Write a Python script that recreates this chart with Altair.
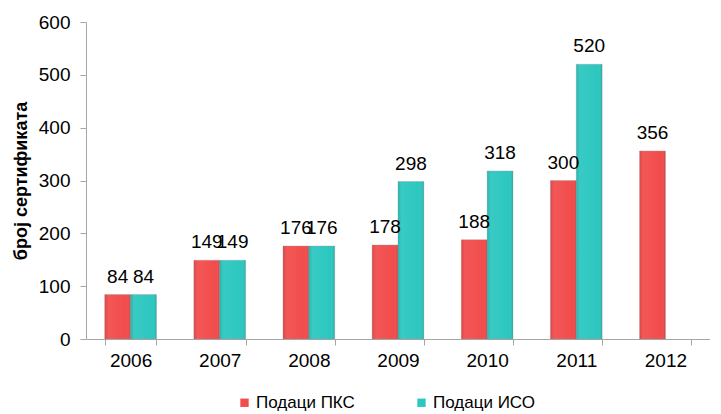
import altair as alt
import pandas as pd

years = ["2006", "2007", "2008", "2009", "2010", "2011", "2012"]
pks = [84, 149, 176, 178, 188, 300, 356]
iso = [84, 149, 176, 298, 318, 520, None]
series = ["Подаци ПКС", "Подаци ИСО"]
colors = ["#F24C4C", "#2CC7C0"]

rows = []
for i, y in enumerate(years):
    rows.append({"year": y, "series": series[0], "value": pks[i]})
    if iso[i] is not None:
        rows.append({"year": y, "series": series[1], "value": iso[i]})
df = pd.DataFrame(rows)

FONT = "Liberation Sans"
pi = 0.42

x = alt.X(
    "year:N",
    sort=years,
    title=None,
    scale=alt.Scale(paddingInner=pi, paddingOuter=pi / 2),
    axis=alt.Axis(
        labelAngle=0, labelFontSize=19, labelColor="#000000", labelFont=FONT,
        tickBand="extent", tickSize=6, tickColor="#A6A6A6",
        domainColor="#A6A6A6", labelPadding=6,
    ),
)
xo = alt.XOffset("series:N", sort=series, scale=alt.Scale(domain=series))
y = alt.Y(
    "value:Q",
    scale=alt.Scale(domain=[0, 600]),
    title="број сертификата",
    axis=alt.Axis(
        values=[0, 100, 200, 300, 400, 500, 600], grid=False,
        labelFontSize=19, labelColor="#000000", labelFont=FONT,
        tickSize=6, tickColor="#A6A6A6", domainColor="#A6A6A6",
        labelPadding=10, titleFontSize=18, titleFont=FONT, titleFontWeight="bold",
        titleColor="#000000", titlePadding=8,
    ),
)

bars = alt.Chart(df).mark_bar(stroke="#9a9a9a", strokeWidth=0.6, strokeOpacity=0.6).encode(
    x=x, xOffset=xo, y=y,
    color=alt.Color(
        "series:N", sort=series,
        scale=alt.Scale(domain=series, range=colors),
        legend=alt.Legend(
            title=None, orient="none", direction="horizontal",
            legendX=150, legendY=372, symbolType="square", symbolSize=70,
            symbolStrokeWidth=0, labelFontSize=17, labelFont=FONT,
            labelColor="#000000", columnPadding=58, symbolOffset=0, labelOffset=3,
        ),
    ),
)

shade = alt.Chart(df).mark_bar(
    fill=alt.Gradient(
        gradient="linear", x1=0, x2=1, y1=0, y2=0,
        stops=[
            alt.GradientStop(offset=0, color="rgba(0,0,0,0.10)"),
            alt.GradientStop(offset=0.15, color="rgba(255,255,255,0.06)"),
            alt.GradientStop(offset=0.85, color="rgba(255,255,255,0.0)"),
            alt.GradientStop(offset=1, color="rgba(0,0,0,0.14)"),
        ],
    )
).encode(x=x, xOffset=xo, y=y)

labels = alt.Chart(df).mark_text(
    baseline="bottom", dy=-8, fontSize=19, font=FONT, color="#000000"
).encode(x=x, xOffset=xo, y=y, text=alt.Text("value:Q", format="d"))

chart = (
    alt.layer(bars, shade, labels)
    .properties(width=624, height=317, padding={"left": 4, "top": 5, "right": 0, "bottom": 0})
    .configure_view(stroke=None)
)

chart.save("out.html", embed_options={"renderer": "svg", "actions": False})
